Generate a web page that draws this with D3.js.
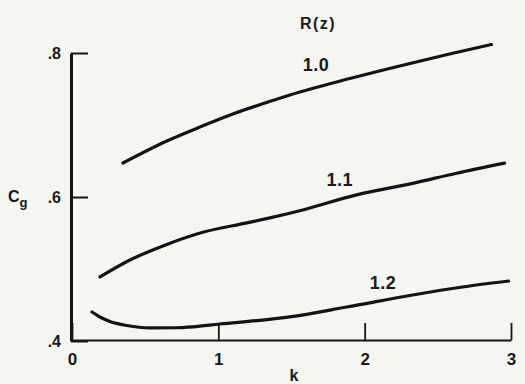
<!DOCTYPE html>
<html>
<head>
<meta charset="utf-8">
<script src="https://cdn.jsdelivr.net/npm/d3@7"></script>
<style>
  html, body { margin: 0; padding: 0; background: #f5f5f2; }
  svg { display: block; }
  text { font-family: "Liberation Sans", Arial, sans-serif; font-weight: bold; fill: #1a1a1a; }
</style>
</head>
<body>
<svg id="chart" width="525" height="384"></svg>
<script>
// Data (k, Cg) for each R(z)
const seriesNames = ["1.0", "1.1", "1.2"];
const kR10 = [0.348, 0.648, 0.874, 1.099, 1.331, 1.556, 1.782, 2.239, 2.580, 2.867];
const cgR10 = [0.6472, 0.6778, 0.6972, 0.7153, 0.7312, 0.7458, 0.7583, 0.7819, 0.7986, 0.8118];
const kR11 = [0.191, 0.396, 0.621, 0.894, 1.195, 1.352, 1.556, 1.945, 2.328, 2.628, 2.956];
const cgR11 = [0.489, 0.5125, 0.532, 0.551, 0.564, 0.571, 0.581, 0.603, 0.619, 0.633, 0.647];
const kR12 = [0.137, 0.198, 0.259, 0.375, 0.532, 0.703, 0.826, 1.010, 1.283, 1.488, 1.877, 2.328, 2.669, 2.983];
const cgR12 = [0.4403, 0.4326, 0.4271, 0.4215, 0.4183, 0.4184, 0.4196, 0.4236, 0.4287, 0.4335, 0.4472, 0.4639, 0.4750, 0.4833];
const xTicks = [0, 1, 2, 3];
const yTicks = [0.4, 0.6, 0.8];
const yTickLabels = [".4", ".6", ".8"];
// label anchor positions (data coords)
const labelPos = [[1.667, 0.783], [1.83, 0.6236], [2.125, 0.4806]];

const svg = d3.select("#chart");
const x = d3.scaleLinear().domain([0, 3]).range([72, 511]);
const y = d3.scaleLinear().domain([0.4, 0.8]).range([341, 53]);
const ink = "#141414";

// x axis
const gx = svg.append("g").attr("transform", `translate(0,${y(0.4) - 1})`)
  .call(d3.axisBottom(x).tickValues(xTicks).tickFormat(d3.format("d"))
    .tickSizeInner(-17).tickSizeOuter(0).tickPadding(13));
gx.select(".domain").attr("stroke", ink).attr("stroke-width", 2.2);
gx.selectAll(".tick line").attr("stroke", ink).attr("stroke-width", 1.8);
gx.selectAll(".tick text").attr("font-size", 17).attr("fill", ink)
  .style("font-family", "Liberation Sans, Arial, sans-serif").style("font-weight", "bold");

// y axis
const gy = svg.append("g").attr("transform", `translate(${x(0) - 1},0)`)
  .call(d3.axisLeft(y).tickValues(yTicks).tickFormat((d, i) => yTickLabels[i])
    .tickSizeInner(-17).tickSizeOuter(0).tickPadding(10));
gy.select(".domain").attr("stroke", ink).attr("stroke-width", 3);
gy.selectAll(".tick line").attr("stroke", ink).attr("stroke-width", 2);
gy.selectAll(".tick text").attr("font-size", 16).attr("fill", ink)
  .style("font-family", "Liberation Sans, Arial, sans-serif").style("font-weight", "bold");

// curves
const line = d3.line().x(d => x(d[0])).y(d => y(d[1])).curve(d3.curveMonotoneX);
const series = [
  d3.zip(kR10, cgR10),
  d3.zip(kR11, cgR11),
  d3.zip(kR12, cgR12)
];
svg.append("g").selectAll("path").data(series).join("path")
  .attr("d", line).attr("fill", "none").attr("stroke", ink)
  .attr("stroke-width", 3.2).attr("stroke-linecap", "round").attr("stroke-linejoin", "round");

// series labels
svg.append("g").selectAll("text").data(seriesNames).join("text")
  .attr("x", (d, i) => x(labelPos[i][0])).attr("y", (d, i) => y(labelPos[i][1]))
  .attr("text-anchor", "middle").attr("dominant-baseline", "central")
  .attr("font-size", 18).attr("letter-spacing", 0.5).text(d => d);

// legend title
svg.append("text").attr("x", 318).attr("y", 23).attr("text-anchor", "middle")
  .attr("dominant-baseline", "central").attr("font-size", 16).attr("letter-spacing", 1.5).text("R(z)");

// axis titles
svg.append("text").attr("x", 294).attr("y", 381).attr("text-anchor", "middle")
  .attr("font-size", 16).text("k");
const cg = svg.append("text").attr("x", 8).attr("y", 202).attr("font-size", 16);
cg.append("tspan").text("C");
cg.append("tspan").attr("font-size", 13).attr("dy", 5).text("g");
</script>
</body>
</html>
